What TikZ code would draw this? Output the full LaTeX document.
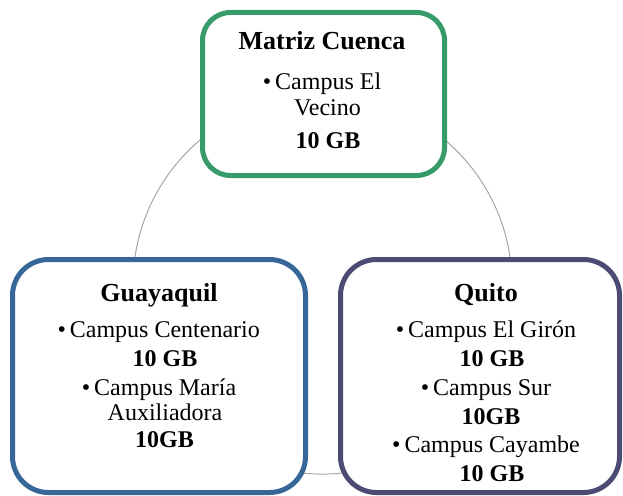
\documentclass[tikz,border=0pt]{standalone}
\usepackage{fontspec}
\setmainfont{Liberation Serif}
\definecolor{cgreen}{RGB}{55,155,105}
\definecolor{cblue}{RGB}{55,103,152}
\definecolor{cslate}{RGB}{75,75,115}
\definecolor{cring}{RGB}{166,166,166}
\begin{document}
\begin{tikzpicture}[x=1pt,y=-1pt,
  box/.style={line width=5pt, fill=white, rounded corners=#1, inner sep=0pt, rectangle},
  ttl/.style={anchor=base, inner sep=0pt, font=\fontsize{26}{30}\selectfont\bfseries},
  body/.style={anchor=base, inner sep=0pt, font=\fontsize{24}{28}\selectfont},
  gb/.style={anchor=base, inner sep=0pt, font=\fontsize{24}{28}\selectfont\bfseries}]
\useasboundingbox (0,0) rectangle (623,495);
\clip (0,0) rectangle (623,495);
% ring
\coordinate (ringc) at (322.5,284.6);
\draw[cring, line width=1pt] (ringc) circle[radius=189.5pt];
% boxes
\node[box=28pt, draw=cgreen, minimum width=242pt, minimum height=163pt] (top) at (323.5,94) {};
\node[box=36pt, draw=cblue, minimum width=293pt, minimum height=233pt] (left) at (159,376) {};
\node[box=36pt, draw=cslate, minimum width=279pt, minimum height=233pt] (right) at (480,376) {};
% top texts
\node[ttl] (t1) at (322,49) {Matriz Cuenca};
\node[body] (t2) at (322,89) {\textbullet\,Campus El};
\node[body] (t3) at (327.5,115) {Vecino};
\node[gb] (t4) at (328,148) {10 GB};
% left texts
\node[ttl] (l1) at (159,301) {Guayaquil};
\node[body] (l2) at (158.7,337) {\textbullet\,Campus Centenario};
\node[gb] (l3) at (165,366) {10 GB};
\node[body] (l4) at (159,395) {\textbullet\,Campus María};
\node[body] (l5) at (165,420) {Auxiliadora};
\node[gb] (l6) at (164.5,447) {10GB};
% right texts
\node[ttl] (r1) at (486,301) {Quito};
\node[body] (r2) at (486,337) {\textbullet\,Campus El Girón};
\node[gb] (r3) at (492,366) {10 GB};
\node[body] (r4) at (486,395) {\textbullet\,Campus Sur};
\node[gb] (r5) at (491,424) {10GB};
\node[body] (r6) at (486,452) {\textbullet\,Campus Cayambe};
\node[gb] (r7) at (492,481) {10 GB};
\end{tikzpicture}
\end{document}
